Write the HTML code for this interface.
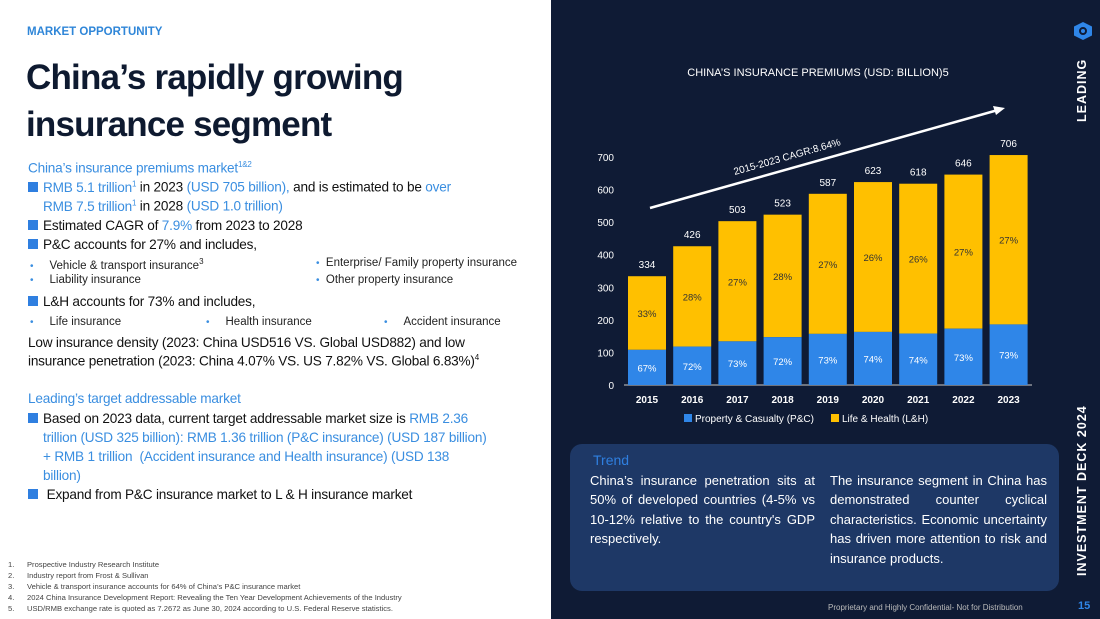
<!DOCTYPE html>
<html><head><meta charset="utf-8">
<style>
*{margin:0;padding:0;box-sizing:border-box}
body{width:1100px;height:619px;overflow:hidden;background:#fff;font-family:"Liberation Sans",sans-serif;position:relative}
.a{position:absolute;white-space:nowrap}
.t{font-size:13.6px;color:#111;letter-spacing:-0.2px}
.b,.t.b{color:#3a8ee0}
.sq{display:inline-block;width:10px;height:10px;background:#2f7fe0;margin-right:5px;vertical-align:0px}
.sm{font-size:11.5px;color:#222}
.dot{color:#3a8ee0;font-size:10px}
.fn{font-size:7.6px;color:#444}
#right{position:absolute;left:551px;top:0;width:549px;height:619px;background:#0f1b35}
.box{position:absolute;left:570px;top:444px;width:489px;height:147px;background:#1e3866;border-radius:12px}
.bt{font-size:13px;color:#fff;line-height:19.4px;text-align:justify;position:absolute}
sup{font-size:8px}
</style></head><body>
<div class="a" style="left:27px;top:26px;font-size:11.5px;font-weight:bold;color:#2f86d8">MARKET OPPORTUNITY</div>
<div class="a" style="left:26px;top:54px;font-size:35px;font-weight:bold;color:#0e1a30;line-height:47px;letter-spacing:-0.8px">China’s rapidly growing<br>insurance segment</div>
<div>
<div class="a t b" style="left:28px;top:160px">China’s insurance premiums market<sup>1&amp;2</sup></div>
<div class="a t" style="left:28px;top:179px"><span class="sq"></span><span class="b">RMB 5.1 trillion<sup>1</sup></span> in 2023 <span class="b">(USD 705 billion),</span> and is estimated to be <span class="b">over</span></div>
<div class="a t" style="left:43px;top:198px"><span class="b">RMB 7.5 trillion<sup>1</sup></span> in 2028 <span class="b">(USD 1.0 trillion)</span></div>
<div class="a t" style="left:28px;top:218px"><span class="sq"></span>Estimated CAGR of <span class="b">7.9%</span> from 2023 to 2028</div>
<div class="a t" style="left:28px;top:237px"><span class="sq"></span>P&amp;C accounts for 27% and includes,</div>
<div class="a sm" style="left:30px;top:257px"><span class="dot">•</span>&nbsp;&nbsp;&nbsp;&nbsp;&nbsp;Vehicle &amp; transport insurance<sup>3</sup></div>
<div class="a sm" style="left:316px;top:257px"><span class="dot">•</span>&nbsp;&nbsp;Enterprise/ Family property insurance</div>
<div class="a sm" style="left:30px;top:274px"><span class="dot">•</span>&nbsp;&nbsp;&nbsp;&nbsp;&nbsp;Liability insurance</div>
<div class="a sm" style="left:316px;top:274px"><span class="dot">•</span>&nbsp;&nbsp;Other property insurance</div>
<div class="a t" style="left:28px;top:294px"><span class="sq"></span>L&amp;H accounts for 73% and includes,</div>
<div class="a sm" style="left:30px;top:316px"><span class="dot">•</span>&nbsp;&nbsp;&nbsp;&nbsp;&nbsp;Life insurance</div>
<div class="a sm" style="left:206px;top:316px"><span class="dot">•</span>&nbsp;&nbsp;&nbsp;&nbsp;&nbsp;Health insurance</div>
<div class="a sm" style="left:384px;top:316px"><span class="dot">•</span>&nbsp;&nbsp;&nbsp;&nbsp;&nbsp;Accident insurance</div>
<div class="a t" style="left:28px;top:335px">Low insurance density (2023: China USD516 VS. Global USD882) and low</div>
<div class="a t" style="left:28px;top:353px">insurance penetration (2023: China 4.07% VS. US 7.82% VS. Global 6.83%)<sup>4</sup></div>
<div class="a t b" style="left:28px;top:391px">Leading’s target addressable market</div>
<div class="a t" style="left:28px;top:411px"><span class="sq"></span>Based on 2023 data, current target addressable market size is <span class="b">RMB 2.36</span></div>
<div class="a t b" style="left:43px;top:430px">trillion (USD 325 billion): RMB 1.36 trillion (P&amp;C insurance) (USD 187 billion)</div>
<div class="a t b" style="left:43px;top:449px">+ RMB 1 trillion&nbsp; (Accident insurance and Health insurance) (USD 138</div>
<div class="a t b" style="left:43px;top:468px">billion)</div>
<div class="a t" style="left:28px;top:487px"><span class="sq"></span>&nbsp;Expand from P&amp;C insurance market to L &amp; H insurance market</div>
</div>
<div>
<div class="a fn" style="left:8px;top:560px">1.&nbsp;&nbsp;&nbsp;&nbsp;&nbsp;&nbsp;Prospective Industry Research Institute</div>
<div class="a fn" style="left:8px;top:571px">2.&nbsp;&nbsp;&nbsp;&nbsp;&nbsp;&nbsp;Industry report from Frost &amp; Sullivan</div>
<div class="a fn" style="left:8px;top:582px">3.&nbsp;&nbsp;&nbsp;&nbsp;&nbsp;&nbsp;Vehicle &amp; transport insurance accounts for 64% of China’s P&amp;C insurance market</div>
<div class="a fn" style="left:8px;top:593px">4.&nbsp;&nbsp;&nbsp;&nbsp;&nbsp;&nbsp;2024 China Insurance Development Report: Revealing the Ten Year Development Achievements of the Industry</div>
<div class="a fn" style="left:8px;top:604px">5.&nbsp;&nbsp;&nbsp;&nbsp;&nbsp;&nbsp;USD/RMB exchange rate is quoted as 7.2672 as June 30, 2024 according to U.S. Federal Reserve statistics.</div>
</div>
<div id="right"></div>
<svg class="a" style="left:0;top:0" width="1100" height="619" id="chart" font-family="Liberation Sans, sans-serif">
<text x="818" y="76" fill="#fff" font-size="11" text-anchor="middle">CHINA’S INSURANCE PREMIUMS (USD: BILLION)5</text>
<g id="yaxis"></g><g id="bars"></g>
<line x1="650" y1="208" x2="998" y2="110" stroke="#fff" stroke-width="2.5"/>
<polygon points="1005,108 993,106 996,115" fill="#fff"/>
<text x="788" y="160" fill="#fff" font-size="10" text-anchor="middle" transform="rotate(-15.8 788 160)">2015-2023 CAGR:8.64%</text>
<rect x="684" y="414" width="8" height="8" fill="#2f86e8"/>
<text x="695" y="422" fill="#fff" font-size="10">Property &amp; Casualty (P&amp;C)</text>
<rect x="831" y="414" width="8" height="8" fill="#ffc000"/>
<text x="842" y="422" fill="#fff" font-size="10">Life &amp; Health (L&amp;H)</text>
</svg>
<div class="box"></div>
<div class="a" style="left:593px;top:452px;font-size:14px;color:#2f7fe0">Trend</div>
<div class="bt" style="left:590px;top:471px;width:225px">China’s insurance penetration sits at 50% of developed countries (4-5% vs 10-12% relative to the country's GDP respectively.</div>
<div class="bt" style="left:830px;top:471px;width:217px">The insurance segment in China has demonstrated counter cyclical characteristics. Economic uncertainty has driven more attention to risk and insurance products.</div>
<div class="a" style="left:828px;top:603px;font-size:8px;color:#bbb">Proprietary and Highly Confidential- Not for Distribution</div>
<div class="a" style="left:1078px;top:600px;font-size:11px;font-weight:bold;color:#2f86e8">15</div>
<div class="a" style="left:1074px;top:22px;width:18px;height:18px;background:#2f86e8;clip-path:polygon(50% 0,100% 25%,100% 75%,50% 100%,0 75%,0 25%)"><div style="position:absolute;left:5px;top:5px;width:8px;height:8px;border:2px solid #0f1b35;border-radius:50%"></div></div>
<div class="a" style="left:1075px;top:122px;transform:rotate(-90deg);transform-origin:0 0;font-size:12.5px;font-weight:bold;color:#fff;letter-spacing:1px">LEADING</div>
<div class="a" style="left:1075px;top:576px;transform:rotate(-90deg);transform-origin:0 0;font-size:12.5px;font-weight:bold;color:#fff;letter-spacing:1px">INVESTMENT DECK 2024</div>
<script>
const years=["2015","2016","2017","2018","2019","2020","2021","2022","2023"];
const totals=[334,426,503,523,587,623,618,646,706];
const pcValues=[108,118,134,147,157,163,158,173,186];
const pcLabels=["67%","72%","73%","72%","73%","74%","74%","73%","73%"];
const lhLabels=["33%","28%","27%","28%","27%","26%","26%","27%","27%"];
const yTicks=[0,100,200,300,400,500,600,700];
const NS="http://www.w3.org/2000/svg";
const y0=385,pxPer=228/700,x0=628,step=45.2,bw=38;
const Y=v=>y0-v*pxPer, X=i=>x0+i*step;
function mk(tag,at,parent,txt){const e=document.createElementNS(NS,tag);for(const k in at)e.setAttribute(k,at[k]);if(txt!=null)e.textContent=txt;parent.appendChild(e);return e;}
const ya=document.getElementById('yaxis'),bg=document.getElementById('bars');
yTicks.forEach(v=>{const t=mk('text',{x:614,y:Y(v)+4,fill:'#fff','font-size':10,'text-anchor':'end'},ya,v);

});
const ax=mk('line',{x1:624,x2:1032,y1:y0,y2:y0,stroke:'#ccc','stroke-width':1},ya);


years.forEach((yr,i)=>{
 const x=X(i),cx=x+bw/2;
 const r1=mk('rect',{x:x,y:Y(totals[i]),width:bw,height:Y(pcValues[i])-Y(totals[i]),fill:'#ffc000'},bg);
 
 
 const r2=mk('rect',{x:x,y:Y(pcValues[i]),width:bw,height:y0-Y(pcValues[i]),fill:'#2f86e8'},bg);
 
 
 const tl=mk('text',{x:cx,y:Y(totals[i])-8,fill:'#fff','font-size':10,'text-anchor':'middle'},bg,totals[i]);
 
 
 const ll=mk('text',{x:cx,y:(Y(totals[i])+Y(pcValues[i]))/2+4,fill:'#333','font-size':9.5,'text-anchor':'middle'},bg,lhLabels[i]);
 
 
 const pl=mk('text',{x:cx,y:(y0+Y(pcValues[i]))/2+4,fill:'#fff','font-size':9.5,'text-anchor':'middle'},bg,pcLabels[i]);
 
 
 const xl=mk('text',{x:cx,y:403,fill:'#fff','font-size':10,'font-weight':'bold','text-anchor':'middle'},bg,yr);
 
 
});
</script>
</body></html>
